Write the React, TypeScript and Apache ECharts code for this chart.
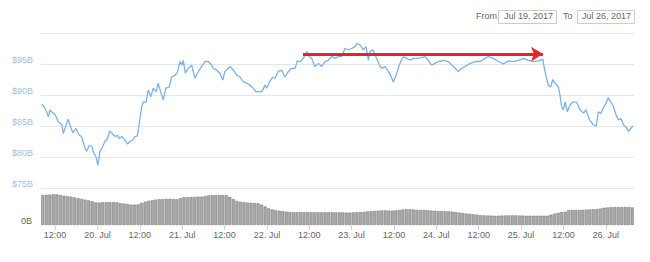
import React, { useEffect, useRef } from "react";
import * as echarts from "echarts";

// Hours counted from Jul 19, 2017 00:00
const priceHours = [
  8.2, 8.85, 9.6, 10.1, 10.55, 11.0, 12.0, 12.9, 13.9, 14.3, 14.8, 15.7, 16.2, 17.0, 17.9, 18.85, 19.5,
  20.5, 20.9, 21.7, 22.4, 23.0, 23.6, 24.1, 24.7, 25.5, 26.1, 26.8, 27.4, 28.0, 29.0, 29.6, 30.2, 30.9,
  31.8, 32.5, 33.2, 34.0, 34.6, 35.3, 35.85, 36.5, 37.0, 37.75, 38.4, 39.1, 39.8, 40.6, 41.2, 41.9, 42.65,
  43.4, 44.35, 45.0, 46.0, 46.6, 47.4, 47.9, 48.3, 48.9, 49.7, 50.7, 51.6, 52.6, 53.5, 54.5, 55.4, 56.4,
  56.8, 57.8, 58.7, 59.5, 60.1, 61.55, 62.5, 63.45, 64.4, 65.3, 66.3, 67.2, 68.15, 68.9, 69.85, 70.5,
  71.5, 71.95, 72.7, 73.65, 74.3, 75.2, 76.2, 77.1, 78.1, 79.0, 80.0, 80.6, 81.4, 82.3, 83.3, 84.0, 84.7,
  85.6, 86.6, 87.5, 88.5, 89.4, 90.4, 91.3, 92.2, 93.2, 94.1, 95.1, 96.0, 97.0, 97.45, 98.4, 99.3, 100.1,
  100.75, 101.2, 102.0, 103.1, 103.9, 104.5, 105.5, 106.4, 107.2, 107.8, 108.6, 109.2, 109.9, 110.7,
  111.6, 112.6, 113.5, 114.5, 115.4, 116.8, 117.7, 118.7, 119.6, 120.6, 122.0, 123.4, 124.4, 125.3,
  126.2, 127.2, 128.1, 129.6, 131.0, 132.4, 133.8, 134.7, 136.2, 137.6, 139.0, 140.4, 141.8, 143.2,
  144.7, 146.1, 147.5, 148.9, 150.2, 150.5, 151.1, 151.7, 152.4, 153.0, 153.6, 154.6, 155.1, 155.5,
  156.0, 156.5, 157.1, 157.9, 158.7, 159.8, 160.7, 161.7, 162.4, 163.4, 164.5, 165.3, 165.9, 166.6,
  167.3, 168.1, 168.7, 169.4, 170.2, 170.9, 171.6, 172.3, 173.0, 173.8, 174.4, 175.1, 175.7,
];

// Market cap, $B
const priceValues = [
  88.5, 88.1, 87.3, 86.5, 87.6, 87.3, 86.8, 85.7, 85.2, 83.8, 84.6, 86.1, 85.2, 83.9, 84.6, 83.5, 83.3,
  81.4, 80.9, 81.9, 81.7, 80.6, 80.0, 78.7, 80.9, 81.7, 82.5, 82.9, 84.2, 83.9, 83.3, 83.5, 83.0, 83.3,
  82.7, 82.1, 82.5, 82.7, 83.3, 83.4, 85.4, 88.1, 88.9, 88.8, 90.8, 89.7, 91.1, 90.5, 91.9, 90.5, 89.2,
  91.1, 91.3, 92.9, 93.2, 93.6, 95.4, 94.8, 95.6, 93.5, 94.3, 94.8, 92.7, 93.8, 94.6, 95.4, 95.4, 94.8,
  94.3, 94.0, 93.5, 92.4, 93.8, 94.6, 94.0, 93.2, 92.9, 92.1, 91.9, 91.6, 91.1, 90.5, 90.6, 90.5,
  91.6, 91.1, 92.1, 92.9, 92.7, 93.8, 94.0, 92.9, 93.8, 94.3, 94.3, 95.5, 95.4, 95.9, 97.0, 96.2, 95.9,
  94.6, 95.1, 94.6, 95.4, 95.6, 96.2, 95.9, 96.2, 96.2, 97.5, 97.3, 97.5, 97.8, 98.3, 98.1, 97.3, 97.8,
  95.6, 97.0, 97.3, 95.9, 94.8, 94.3, 94.6, 93.8, 93.0, 92.1, 93.2, 94.3, 95.4, 96.2,
  95.9, 95.6, 95.9, 95.9, 96.0, 96.2, 95.6, 94.8, 95.1, 95.4, 95.6, 95.4, 94.8, 94.3,
  93.8, 94.3, 94.6, 95.1, 95.4, 95.4, 95.9, 96.2, 95.9, 95.4, 95.0, 95.5, 95.4, 95.6,
  95.9, 95.6, 95.4, 95.5, 95.8, 94.6, 93.0, 91.6, 91.3, 92.5, 91.9, 91.3, 89.7, 88.1,
  87.6, 88.9, 87.3, 88.4, 88.9, 88.8, 87.6, 87.1, 87.6, 86.0, 85.2, 85.0, 87.3, 87.0,
  87.9, 88.7, 89.6, 88.9, 88.1, 86.8, 86.0, 86.2, 85.2, 84.8, 84.1, 84.6, 85.0,
];

// 24h volume, $B, one bar per hour starting at 08:00 Jul 19
const volumeStartHour = 8;
const volumeValues = [
  1.62, 1.63, 1.64, 1.66, 1.65, 1.62, 1.58, 1.56, 1.53, 1.49, 1.45, 1.41, 1.37, 1.33, 1.28, 1.22, 1.21, 1.23, 1.23, 1.24, 1.24, 1.22, 1.18, 1.16,
  1.13, 1.10, 1.10, 1.11, 1.20, 1.26, 1.31, 1.34, 1.37, 1.39, 1.40, 1.41, 1.41, 1.40, 1.39, 1.45, 1.50, 1.50, 1.51, 1.52, 1.53, 1.53, 1.57, 1.60,
  1.61, 1.61, 1.62, 1.62, 1.61, 1.52, 1.40, 1.30, 1.26, 1.23, 1.21, 1.20, 1.19, 1.17, 1.10, 1.00, 0.90, 0.84, 0.80, 0.77, 0.75, 0.72, 0.70, 0.69,
  0.69, 0.69, 0.69, 0.70, 0.69, 0.69, 0.69, 0.68, 0.69, 0.69, 0.69, 0.68, 0.68, 0.68, 0.67, 0.67, 0.68, 0.69, 0.70, 0.71, 0.73, 0.75, 0.76, 0.77,
  0.79, 0.79, 0.78, 0.77, 0.79, 0.81, 0.84, 0.85, 0.85, 0.84, 0.82, 0.81, 0.81, 0.80, 0.78, 0.77, 0.76, 0.75, 0.74, 0.73, 0.72, 0.70, 0.67, 0.65,
  0.62, 0.60, 0.58, 0.56, 0.53, 0.52, 0.51, 0.51, 0.50, 0.50, 0.51, 0.51, 0.52, 0.52, 0.52, 0.51, 0.51, 0.50, 0.50, 0.50, 0.50, 0.50, 0.50, 0.50,
  0.56, 0.62, 0.66, 0.70, 0.72, 0.80, 0.81, 0.81, 0.81, 0.82, 0.83, 0.84, 0.85, 0.86, 0.89, 0.93, 0.95, 0.96, 0.96, 0.97, 0.97, 0.97, 0.97, 0.95,
];

const priceTickLabels = [75, 80, 85, 90, 95];
const xLabelHours = [12, 24, 36, 48, 60, 72, 84, 96, 108, 120, 132, 144, 156, 168];
const dateFrom = "Jul 19, 2017";
const dateTo = "Jul 26, 2017";

// Red arrow annotation (hour, $B)
const arrowStart = [82.2, 96.6];
const arrowEnd = [150.2, 96.6];

export default function App() {
  const ref = useRef<HTMLDivElement>(null);

  useEffect(() => {
    if (!ref.current) return;
    const chart = echarts.init(ref.current, null, { renderer: "svg" });
    const font = "'Liberation Sans Narrow', 'Liberation Sans', sans-serif";

    const option: any = {
      animation: false,
      textStyle: { fontFamily: font },
      grid: [
        { left: 41, right: 16, top: 33, height: 155 },
        { left: 41, right: 16, top: 188, height: 37 },
      ],
      xAxis: [
        { type: "value", gridIndex: 0, min: 8, max: 176, show: false },
        {
          type: "value",
          gridIndex: 1,
          min: 8,
          max: 176,
          axisLine: { show: false },
          splitLine: { show: false },
          axisTick: {
            show: true,
            customValues: xLabelHours,
            length: 5,
            lineStyle: { color: "#ccd6eb" },
          },
          axisLabel: {
            customValues: xLabelHours,
            color: "#666666",
            fontSize: 9,
            fontFamily: font,
            margin: 5,
            formatter: (v: number) =>
              v % 24 === 0 ? `${19 + v / 24}. Jul` : "12:00",
          },
        },
      ],
      yAxis: [
        {
          type: "value",
          gridIndex: 0,
          min: 75,
          max: 100,
          interval: 5,
          axisLine: { show: false },
          axisTick: { show: false },
          splitLine: { lineStyle: { color: "#e6e6e6", width: 1 } },
          axisLabel: {
            customValues: priceTickLabels,
            formatter: (v: number) => `$${v}B`,
            color: "#9fc0e4",
            fontSize: 9,
            fontFamily: font,
            margin: 8,
            verticalAlign: "bottom",
          },
        },
        {
          type: "value",
          gridIndex: 1,
          min: 0,
          max: 2,
          axisLine: { show: false },
          axisTick: { show: false },
          splitLine: { show: false },
          axisLabel: {
            customValues: [0],
            formatter: () => "0B",
            color: "#666666",
            fontSize: 9,
            fontFamily: font,
            margin: 9,
            verticalAlign: "bottom",
          },
        },
      ],
      series: [
        {
          type: "bar",
          xAxisIndex: 1,
          yAxisIndex: 1,
          barWidth: 3,
          data: volumeValues.map((v, i) => [volumeStartHour + 0.5 + i, v]),
          itemStyle: { color: "#a9a9a9", borderColor: "#727272", borderWidth: 0.5 },
          silent: true,
        },
        {
          type: "line",
          xAxisIndex: 0,
          yAxisIndex: 0,
          showSymbol: false,
          data: priceHours.map((h, i) => [h, priceValues[i]]),
          lineStyle: { color: "#7cb2e6", width: 1.3 },
          silent: true,
          markLine: {
            silent: true,
            symbol: ["none", "arrow"],
            symbolSize: [11, 12],
            label: { show: false },
            lineStyle: { color: "#e3242b", width: 3, type: "solid" },
            emphasis: { disabled: true },
            data: [[{ coord: arrowStart }, { coord: arrowEnd }]],
          },
        },
      ],
      graphic: [
        {
          type: "text",
          left: 476,
          top: 11,
          style: { text: "From", fill: "#666666", fontSize: 9, fontFamily: font },
        },
        {
          type: "rect",
          shape: { x: 498.5, y: 10.5, width: 58, height: 13 },
          style: { fill: "#ffffff", stroke: "#cccccc", lineWidth: 1 },
        },
        {
          type: "text",
          left: 504,
          top: 11,
          style: { text: dateFrom, fill: "#666666", fontSize: 9, fontFamily: font },
        },
        {
          type: "text",
          left: 563,
          top: 11,
          style: { text: "To", fill: "#666666", fontSize: 9, fontFamily: font },
        },
        {
          type: "rect",
          shape: { x: 577.5, y: 10.5, width: 57, height: 13 },
          style: { fill: "#ffffff", stroke: "#cccccc", lineWidth: 1 },
        },
        {
          type: "text",
          left: 582,
          top: 11,
          style: { text: dateTo, fill: "#666666", fontSize: 9, fontFamily: font },
        },
      ],
    };

    chart.setOption(option);
    return () => chart.dispose();
  }, []);

  return (
    <div
      ref={ref}
      style={{ position: "fixed", left: 0, top: 0, width: 650, height: 262, background: "#ffffff" }}
    />
  );
}
